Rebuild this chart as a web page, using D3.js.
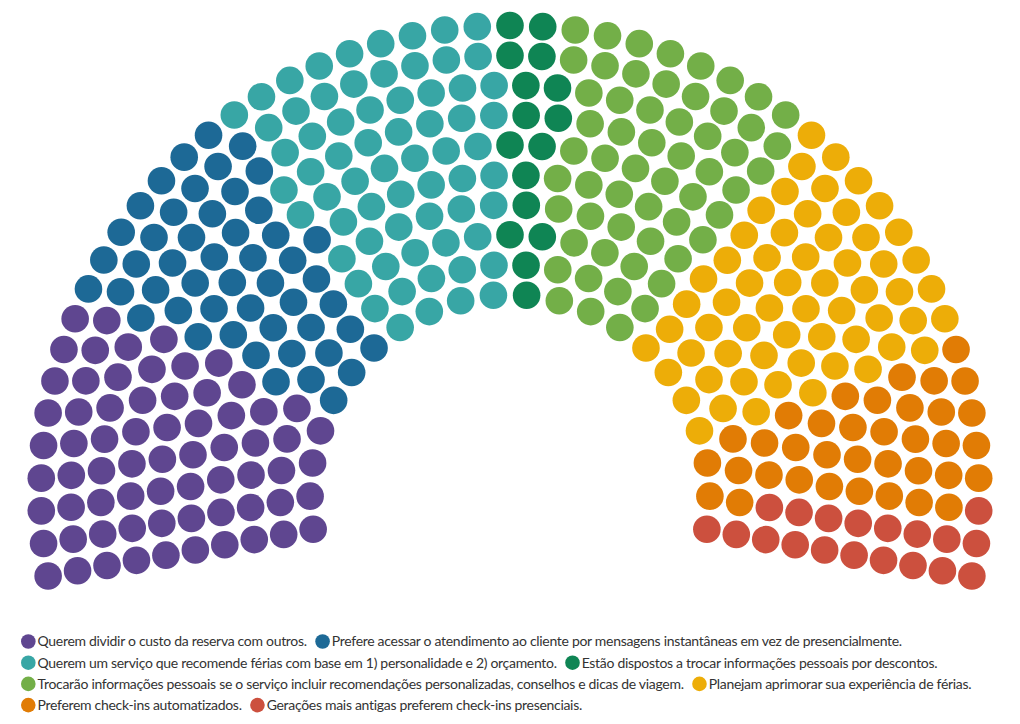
<!DOCTYPE html>
<html>
<head>
<meta charset="utf-8">
<script src="https://cdn.jsdelivr.net/npm/d3@7/dist/d3.min.js"></script>
<style>
  html, body { margin: 0; padding: 0; background: #ffffff; }
  svg { display: block; }
  .legend text { font-family: "Source Sans Pro", Lato, sans-serif; font-size: 14px; letter-spacing: -0.3px; fill: #333333; }
</style>
</head>
<body>
<div id="chart"></div>
<script>
// ---- data ----
const categories = [
  "Querem dividir o custo da reserva com outros.",
  "Prefere acessar o atendimento ao cliente por mensagens instantâneas em vez de presencialmente.",
  "Querem um serviço que recomende férias com base em 1) personalidade e 2) orçamento.",
  "Estão dispostos a trocar informações pessoais por descontos.",
  "Trocarão informações pessoais se o serviço incluir recomendações personalizadas, conselhos e dicas de viagem.",
  "Planejam aprimorar sua experiência de férias.",
  "Preferem check-ins automatizados.",
  "Gerações mais antigas preferem check-ins presenciais."
];
const seats = [68, 50, 66, 16, 57, 60, 36, 19];
const colors = ["#5F4690", "#1D6996", "#38A6A5", "#0F8554", "#73AF48", "#EDAD08", "#E17C05", "#CC503E"];
// seats in each arc, innermost to outermost
const seatsPerRow = [22, 26, 29, 32, 36, 39, 42, 46, 49, 51];

// ---- layout ----
const W = 1020, H = 724;
const cx = 510, cy = 494.5;
const svg = d3.select("#chart").append("svg").attr("width", W).attr("height", H);
svg.append("rect").attr("width", W).attr("height", H).attr("fill", "#fff");

const rScale = d3.scaleLinear().domain([0, seatsPerRow.length - 1]).range([199.9, 469]);
const aScale = d3.scaleLinear().domain([0, 1]).range([-190 * Math.PI / 180, 10 * Math.PI / 180]);
const color = d3.scaleOrdinal().domain(d3.range(categories.length)).range(colors);

let slots = [];
seatsPerRow.forEach((n, row) => {
  for (let j = 0; j < n; j++) {
    slots.push({ row, frac: j / (n - 1) });
  }
});
slots.sort((a, b) => (a.frac - b.frac) || (a.row - b.row));

const cumulative = Array.from(d3.cumsum(seats));
slots.forEach((s, i) => {
  s.cat = d3.bisectRight(cumulative, i);
  const a = aScale(s.frac), r = rScale(s.row);
  s.x = cx + r * Math.cos(a);
  s.y = cy + r * Math.sin(a);
});

svg.append("g").selectAll("circle")
  .data(slots)
  .join("circle")
  .attr("cx", d => d.x)
  .attr("cy", d => d.y)
  .attr("r", 13.8)
  .attr("fill", d => color(d.cat));

// ---- legend ----
const legend = svg.append("g").attr("class", "legend");
const x0 = 21, maxX = 1000, y0 = 641.5, lineH = 21.2;
let lx = x0, line = 0;
categories.forEach((label, i) => {
  const g = legend.append("g");
  g.append("circle").attr("cx", 7.3).attr("cy", 0).attr("r", 7.3).attr("fill", color(i));
  const t = g.append("text").attr("x", 16.5).attr("y", 0).attr("dy", "0.35em").text(label);
  const w = 16.5 + t.node().getComputedTextLength();
  if (lx + w > maxX && lx > x0) { line++; lx = x0; }
  g.attr("transform", `translate(${lx},${y0 + line * lineH})`);
  lx += w + 8.5;
});
</script>
</body>
</html>
